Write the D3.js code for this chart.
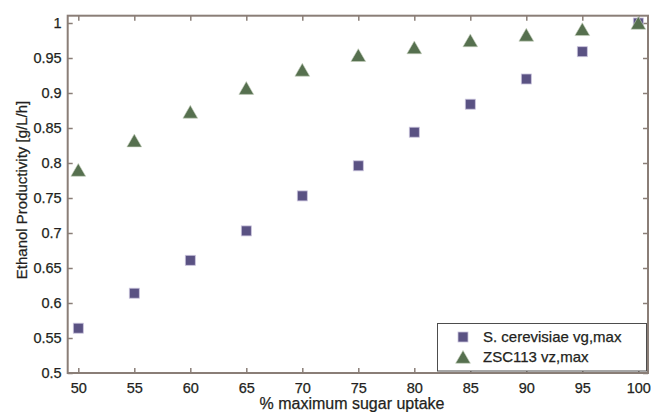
<!DOCTYPE html>
<html>
<head>
<meta charset="utf-8">
<script src="https://d3js.org/d3.v7.min.js"></script>
<style>
  html, body { margin: 0; padding: 0; background: #fff; }
  svg { display: block; font-family: "Liberation Sans", Arial, sans-serif; }
  text { stroke: #231f20; stroke-width: 0.25px; }
</style>
</head>
<body>
<svg id="chart" width="652" height="412"></svg>
<script>
const xValues = [50, 55, 60, 65, 70, 75, 80, 85, 90, 95, 100];
const cerevisiae = [0.564, 0.614, 0.661, 0.703, 0.753, 0.796, 0.844, 0.884, 0.920, 0.959, 1.000];
const zsc113 = [0.790, 0.832, 0.873, 0.907, 0.933, 0.954, 0.965, 0.975, 0.983, 0.991, 1.000];
const xTicks = [50, 55, 60, 65, 70, 75, 80, 85, 90, 95, 100];
const yTicks = [0.5, 0.55, 0.6, 0.65, 0.7, 0.75, 0.8, 0.85, 0.9, 0.95, 1];
const seriesNames = ["S. cerevisiae vg,max", "ZSC113 vz,max"];

const svg = d3.select("#chart");
const frame = { left: 67.7, right: 648, top: 15.7, bottom: 373 };
const x = d3.scaleLinear().domain([50, 100]).range([78.3, 638.3]);
const y = d3.scaleLinear().domain([0.5, 1]).range([373, 23]);
const axisColor = "#8a7e77";
const textColor = "#231f20";
const sqColor = "#5a5283";
const triColor = "#56704f";

function styleAxis(g, showLabels) {
  g.select(".domain").remove();
  g.selectAll(".tick line").attr("stroke", axisColor).attr("stroke-width", 1.5);
  g.selectAll(".tick text").attr("fill", textColor).style("font-size", "14.5px");
  if (!showLabels) g.selectAll(".tick text").remove();
}

svg.append("g").attr("transform", `translate(0,${frame.bottom})`)
  .call(d3.axisBottom(x).tickValues(xTicks).tickSizeInner(-5).tickSizeOuter(0).tickPadding(10).tickFormat(d3.format("d")))
  .call(g => styleAxis(g, true));
svg.append("g").attr("transform", `translate(0,${frame.top})`)
  .call(d3.axisTop(x).tickValues(xTicks).tickSizeInner(-5).tickSizeOuter(0))
  .call(g => styleAxis(g, false));
svg.append("g").attr("transform", `translate(${frame.left},0)`)
  .call(d3.axisLeft(y).tickValues(yTicks).tickSizeInner(-5).tickSizeOuter(0).tickPadding(6).tickFormat(d => d3.format("")(+d.toFixed(2))))
  .call(g => styleAxis(g, true));
svg.append("g").attr("transform", `translate(${frame.right},0)`)
  .call(d3.axisRight(y).tickValues(yTicks).tickSizeInner(-5).tickSizeOuter(0))
  .call(g => styleAxis(g, false));

svg.append("rect")
  .attr("x", frame.left).attr("y", frame.top)
  .attr("width", frame.right - frame.left).attr("height", frame.bottom - frame.top)
  .attr("fill", "none").attr("stroke", axisColor).attr("stroke-width", 2);

const sq = 10;
svg.append("g").selectAll("rect").data(xValues.map((v, i) => [v, cerevisiae[i]]))
  .join("rect")
  .attr("x", d => x(d[0]) - sq / 2).attr("y", d => y(d[1]) - sq / 2)
  .attr("width", sq).attr("height", sq)
  .attr("fill", sqColor).attr("stroke", "#c9c3dc").attr("stroke-width", 0.8);

const tri = d3.symbol().type(d3.symbolTriangle).size(95);
svg.append("g").selectAll("path").data(xValues.map((v, i) => [v, zsc113[i]]))
  .join("path")
  .attr("transform", d => `translate(${x(d[0])},${y(d[1]) + 2})`)
  .attr("d", tri)
  .attr("fill", triColor).attr("stroke", "#c8d2c0").attr("stroke-width", 0.6);

// axis labels
svg.append("text").attr("x", 352).attr("y", 409)
  .attr("text-anchor", "middle").attr("fill", textColor).style("font-size", "16px")
  .text("% maximum sugar uptake");
svg.append("text").attr("transform", "translate(27,190) rotate(-90)")
  .attr("text-anchor", "middle").attr("fill", textColor).style("font-size", "15px")
  .text("Ethanol Productivity [g/L/h]");

// legend
const lg = svg.append("g");
lg.append("rect").attr("x", 437.5).attr("y", 323.5).attr("width", 209).attr("height", 47.5)
  .attr("fill", "#fff").attr("stroke", "#4d4d4d").attr("stroke-width", 1);
lg.append("rect").attr("x", 463 - sq / 2).attr("y", 337 - sq / 2).attr("width", sq).attr("height", sq)
  .attr("fill", sqColor).attr("stroke", "#c9c3dc").attr("stroke-width", 0.8);
lg.append("path").attr("transform", "translate(463,359)").attr("d", tri)
  .attr("fill", triColor).attr("stroke", "#c8d2c0").attr("stroke-width", 0.6);
seriesNames.forEach((name, i) => {
  lg.append("text").attr("x", 483).attr("y", 342 + i * 20)
    .attr("fill", textColor).style("font-size", "15px").text(name);
});
</script>
</body>
</html>
